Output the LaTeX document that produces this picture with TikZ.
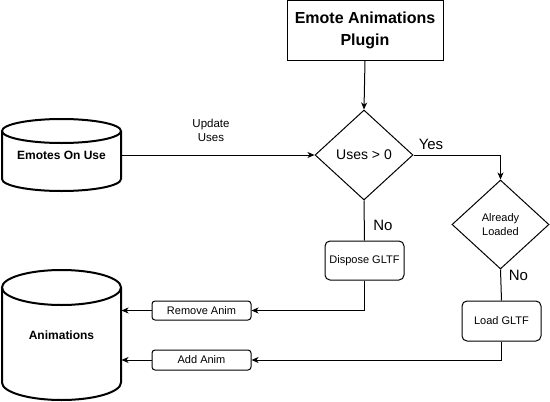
\documentclass[tikz,border=0pt]{standalone}
\usepackage{fontspec}
\setmainfont{Liberation Sans}
\usetikzlibrary{shapes.geometric,arrows.meta}
\begin{document}
\begin{tikzpicture}[x=1pt,y=-1pt,
  line width=1pt,
  arr/.style={-{Stealth[length=7pt,width=6pt,inset=2pt]}},
  box/.style={draw,rectangle,inner sep=0pt},
  rbox/.style={draw,rectangle,rounded corners=5pt,inner sep=0pt,font=\fontsize{11}{14}\selectfont},
  dia/.style={draw,diamond,aspect=1,inner sep=0pt,align=center},
  cyl/.style={rectangle,inner sep=0pt,font=\bfseries\fontsize{12}{14}\selectfont},
  lbl/.style={inner sep=0pt,align=center},
  cylline/.style={line width=2pt}
]
\useasboundingbox (0,0) rectangle (550,402);

% nodes
\node[box,minimum width=156pt,minimum height=60pt,align=center,font=\bfseries\fontsize{16}{22}\selectfont] (plugin) at (365,30.5) {Emote Animations\\Plugin};
\node[dia,minimum width=98pt,minimum height=90pt,font=\fontsize{14}{16}\selectfont] (uses) at (364,155) {Uses > 0};
\node[dia,minimum width=97pt,minimum height=89pt,font=\fontsize{11}{14}\selectfont] (already) at (500.5,224.5) {Already\\Loaded};
\node[rbox,minimum width=79pt,minimum height=39pt] (dispose) at (364.5,260.5) {Dispose GLTF};
\node[rbox,minimum width=79pt,minimum height=40pt] (load) at (501.5,321) {Load GLTF};
\node[rbox,rounded corners=3pt,minimum width=99pt,minimum height=19pt] (remove) at (201.5,310.5) {Remove Anim};
\node[rbox,rounded corners=3pt,minimum width=99pt,minimum height=20pt] (add) at (201.5,360) {Add Anim};
\node[cyl,minimum width=119pt,minimum height=72pt] (emotes) at (61.5,155) {Emotes On Use};
\node[cyl,minimum width=119pt,minimum height=130pt] (anim) at (61.5,335) {Animations};

% cylinders
\draw[cylline] (61.5,131) ellipse [x radius=59.5, y radius=12];
\draw[cylline] (2,131) -- (2,179) arc[start angle=180, end angle=0, x radius=59.5, y radius=12] -- (121,131);
\draw[cylline] (61.5,287.5) ellipse [x radius=59.5, y radius=17.5];
\draw[cylline] (2,287.5) -- (2,382.5) arc[start angle=180, end angle=0, x radius=59.5, y radius=17.5] -- (121,287.5);

% connectors
\draw[arr] (plugin.south) -- (uses.north);
\draw[arr] (emotes.east) -- (uses.west);
\draw[arr] (uses.east) -| (already.north);
\draw (uses.south) -- (dispose.north);
\draw (already.south) -- (load.north);
\draw[arr] (dispose.south) |- (remove.east);
\draw[arr] (load.south) |- (add.east);
\draw[arr] (remove.west) -- (remove.west -| anim.east);
\draw[arr] (add.west) -- (add.west -| anim.east);

% labels
\node[lbl,font=\fontsize{11.5}{14}\selectfont] (upd) at (211,130) {Update\\Uses};
\node[lbl,font=\fontsize{15}{18}\selectfont] (yes) at (431,144) {Yes};
\node[lbl,font=\fontsize{15}{18}\selectfont] (no1) at (383,225) {No};
\node[lbl,font=\fontsize{15}{18}\selectfont] (no2) at (518.5,275) {No};
\end{tikzpicture}
\end{document}
